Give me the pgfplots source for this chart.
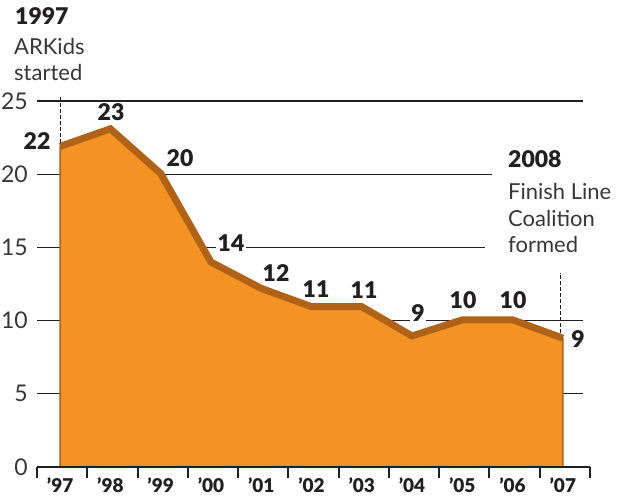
\documentclass[border=0pt]{standalone}
\usepackage{fontspec}
\setmainfont{Lato}[BoldFont={Lato Black}]
\usepackage{pgfplots}
\pgfplotsset{compat=1.18}
\definecolor{areaor}{RGB}{244,146,35}
\definecolor{lineor}{RGB}{176,98,22}
\definecolor{txt}{RGB}{35,31,32}
\definecolor{soft}{RGB}{55,55,55}
\tikzset{lab/.style={font=\fontsize{23}{23}\selectfont\bfseries, text=txt,
    fill=white, inner sep=1.5pt}}
\begin{document}
\begin{tikzpicture}
\begin{axis}[
  at={(0,0)}, anchor=south west,
  scale only axis, width=553pt, height=366pt,
  xmin=-0.46, xmax=10.54, ymin=0, ymax=25,
  clip=false, axis on top,
  axis x line*=bottom, axis y line*=left,
  y axis line style={draw=none},
  x axis line style={line width=2.5pt, txt},
  xtick={0,1,2,3,4,5,6,7,8,9,10},
  xticklabels={’97,’98,’99,’00,’01,’02,’03,’04,’05,’06,’07},
  minor xtick={-0.46,0.54,1.54,2.54,3.54,4.54,5.54,6.54,7.54,8.54,9.54,10.54},
  ytick={0,5,10,15,20,25},
  major tick length=0pt,
  minor tick length=11pt,
  tick align=outside,
  minor x tick style={line width=2pt, txt},
  xticklabel style={anchor=base, yshift=-25pt, inner sep=0pt,
    font=\fontsize{19}{19}\selectfont\bfseries, text=txt},
  yticklabel style={anchor=east, inner sep=0pt, xshift=-9pt,
    font=\fontsize{23}{23}\selectfont, text=soft},
  /pgf/number format/assume math mode=true,
]
% gridlines, behind the area
\addplot[txt, line width=1.1pt, forget plot] coordinates {(-0.46,25)(10.40,25)};
\addplot[txt, line width=1.1pt, forget plot] coordinates {(-0.46,20)(8.59,20)};
\addplot[txt, line width=1.1pt, forget plot] coordinates {(-0.46,15)(8.45,15)};
\addplot[txt, line width=1.1pt, forget plot] coordinates {(-0.46,10)(10.40,10)};
\addplot[txt, line width=1.1pt, forget plot] coordinates {(-0.46,5)(10.40,5)};

\addplot[fill=areaor, draw=lineor, line width=1.5pt] coordinates {
  (0,21.9)(1,23.1)(2,20.05)(3,14.0)(4,12.2)(5,10.95)(6,10.95)(7,8.95)(8,10.05)(9,10.05)(10,8.8)
} \closedcycle;
\addplot[lineor, line width=7pt, line join=miter] coordinates {
  (0,21.9)(1,23.1)(2,20.05)(3,14.0)(4,12.2)(5,10.95)(6,10.95)(7,8.95)(8,10.05)(9,10.05)(10,8.8)
};

\draw[txt, line width=1.2pt, dash pattern=on 4pt off 2pt] (axis cs:0,22.1) -- (axis cs:0,25.27);
\draw[txt, line width=1.2pt, dash pattern=on 4pt off 2pt] (axis cs:9.96,9.15) -- (axis cs:9.96,13.25);

\node[lab] at (axis cs:-0.46,22.27) {22};
\node[lab] at (axis cs:1.012,24.25) {23};
\node[lab] at (axis cs:2.385,21.1) {20};
\node[lab] at (axis cs:3.399,15.3) {14};
\node[lab] at (axis cs:4.294,13.25) {12};
\node[lab] at (axis cs:5.09,12.16) {11};
\node[lab] at (axis cs:6.045,12.09) {11};
\node[lab] at (axis cs:7.119,10.52) {9};
\node[lab] at (axis cs:8.014,11.41) {10};
\node[lab] at (axis cs:9.009,11.41) {10};
\node[lab] at (axis cs:10.302,8.74) {9};
\end{axis}
% annotations, placed in picture pixels
\begin{scope}[x=1pt, y=-1pt, shift={(-37pt,467pt)}]
  \node[anchor=base west, inner sep=0pt, text=txt, font=\fontsize{23}{23}\selectfont\bfseries] at (15,25) {1997};
  \node[anchor=base west, inner sep=0pt, text=soft, font=\fontsize{22}{22}\selectfont] at (14,55) {ARKids};
  \node[anchor=base west, inner sep=0pt, text=soft, font=\fontsize{22}{22}\selectfont] at (14,81) {started};
  \node[anchor=base west, inner sep=0pt, text=txt, font=\fontsize{23}{23}\selectfont\bfseries] at (508,168) {2008};
  \node[anchor=base west, inner sep=0pt, text=soft, font=\fontsize{22}{22}\selectfont] at (508,200) {Finish Line};
  \node[anchor=base west, inner sep=0pt, text=soft, font=\fontsize{22}{22}\selectfont] at (508,227) {Coalition};
  \node[anchor=base west, inner sep=0pt, text=soft, font=\fontsize{22}{22}\selectfont] at (508,253) {formed};
  \pgfresetboundingbox
  \useasboundingbox (0,0) rectangle (620,495);
\end{scope}
\end{tikzpicture}
\end{document}
